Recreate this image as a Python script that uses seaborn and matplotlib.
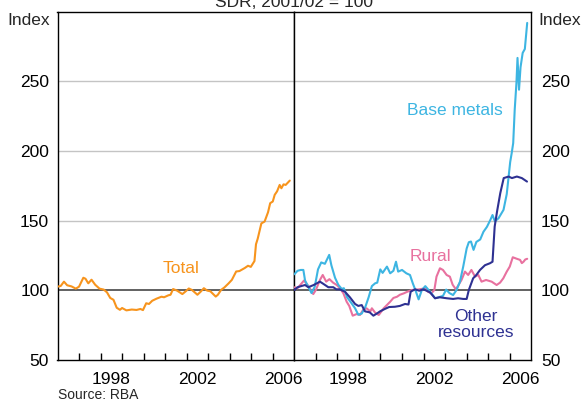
import numpy as np
import pandas as pd
import matplotlib
matplotlib.use("Agg")
import matplotlib.pyplot as plt
from matplotlib.ticker import FixedLocator, NullFormatter
import seaborn as sns

# ---- data (decimal year, index SDR 2001/02 = 100) ----
total_t = [1996.0, 1996.15, 1996.3, 1996.45, 1996.65, 1996.85, 1997.0, 1997.2, 1997.3, 1997.43,
           1997.58, 1997.75, 1997.95, 1998.15, 1998.3, 1998.45, 1998.6, 1998.75, 1998.9, 1999.0,
           1999.2, 1999.45, 1999.67, 1999.85, 1999.97, 2000.12, 2000.25, 2000.4, 2000.6, 2000.83,
           2000.95, 2001.15, 2001.25, 2001.37, 2001.55, 2001.8, 2001.95, 2002.1, 2002.25, 2002.5,
           2002.65, 2002.8, 2002.95, 2003.1, 2003.35, 2003.45, 2003.6, 2003.75, 2003.95, 2004.1,
           2004.3, 2004.45, 2004.7, 2004.85, 2004.98, 2005.15, 2005.22, 2005.3, 2005.47, 2005.62,
           2005.78, 2005.88, 2006.0, 2006.09, 2006.2, 2006.32, 2006.4, 2006.5, 2006.6, 2006.79]
total_v = [102.6, 103.1, 106.2, 103.6, 102.8, 101.2, 102.6, 109.0, 108.3, 105.0,
           107.6, 104.0, 101.2, 100.5, 98.5, 94.5, 93.2, 87.5, 86.0, 87.3,
           85.6, 86.2, 85.9, 86.6, 85.8, 90.7, 90.2, 92.5, 94.0, 95.4,
           95.0, 96.4, 96.8, 100.9, 99.8, 97.3, 99.2, 101.3, 100.2, 96.8,
           99.0, 101.5, 99.8, 99.3, 95.5, 96.8, 100.3, 102.0, 105.0, 107.5,
           113.5, 113.8, 116.0, 117.6, 116.8, 121.0, 133.0, 137.0, 148.0, 149.3,
           156.0, 162.5, 163.7, 168.5, 171.0, 175.6, 173.2, 176.0, 175.6, 178.7]

base_t = [1996.0, 1996.15, 1996.3, 1996.42, 1996.5, 1996.65, 1996.8, 1996.95, 1997.1, 1997.25,
          1997.42, 1997.62, 1997.72, 1997.89, 1998.04, 1998.2, 1998.3, 1998.45, 1998.62, 1998.82,
          1998.97, 1999.13, 1999.3, 1999.45, 1999.6, 1999.75, 1999.85, 1999.99, 2000.1, 2000.3,
          2000.45, 2000.6, 2000.72, 2000.82, 2001.0, 2001.2, 2001.37, 2001.5, 2001.62, 2001.77,
          2001.92, 2002.08, 2002.3, 2002.54, 2002.7, 2002.9, 2003.05, 2003.2, 2003.37, 2003.53,
          2003.69, 2003.84, 2004.0, 2004.1, 2004.2, 2004.32, 2004.45, 2004.63, 2004.78, 2004.94,
          2005.1, 2005.2, 2005.31, 2005.48, 2005.71, 2005.86, 2006.02, 2006.09, 2006.16, 2006.23,
          2006.31, 2006.36, 2006.43, 2006.5, 2006.6, 2006.7, 2006.81]
base_v = [111.5, 114.0, 114.6, 114.6, 107.0, 102.5, 98.0, 102.6, 115.0, 120.0,
          119.0, 125.4, 118.0, 109.0, 104.0, 101.0, 101.5, 95.0, 91.5, 87.1,
          82.5, 83.3, 88.2, 95.0, 103.0, 105.0, 105.5, 115.0, 112.5, 117.0,
          112.2, 114.0, 120.5, 113.4, 114.6, 112.2, 111.0, 105.0, 100.2, 93.5,
          100.2, 103.0, 99.0, 94.3, 95.0, 96.0, 100.5, 98.0, 96.6, 100.2,
          106.2, 117.0, 130.0, 134.5, 135.0, 129.0, 134.7, 136.5, 142.0, 145.5,
          150.5, 154.0, 149.5, 151.7, 157.7, 169.0, 192.0, 198.4, 205.6, 229.5,
          248.7, 266.7, 243.9, 260.0, 270.3, 273.1, 291.8]

rural_t = [1996.0, 1996.15, 1996.34, 1996.45, 1996.65, 1996.88, 1997.0, 1997.19, 1997.32, 1997.48,
           1997.63, 1997.8, 1997.97, 1998.12, 1998.28, 1998.43, 1998.55, 1998.71, 1998.9, 1999.05,
           1999.2, 1999.35, 1999.53, 1999.6, 1999.75, 1999.92, 2000.15, 2000.45, 2000.6, 2000.77,
           2000.9, 2001.08, 2001.25, 2001.46, 2001.75, 2002.08, 2002.2, 2002.36, 2002.5, 2002.6,
           2002.76, 2002.9, 2003.07, 2003.22, 2003.35, 2003.5, 2003.62, 2003.76, 2003.92, 2004.07,
           2004.22, 2004.39, 2004.54, 2004.69, 2004.9, 2005.16, 2005.39, 2005.55, 2005.7, 2005.86,
           2006.0, 2006.14, 2006.33, 2006.48, 2006.56, 2006.64, 2006.72, 2006.81]
rural_v = [102.2, 101.5, 105.0, 107.0, 103.1, 97.3, 100.2, 107.4, 111.0, 106.2,
           108.0, 105.5, 103.8, 101.5, 97.8, 91.8, 88.8, 81.8, 83.0, 82.3,
           86.1, 87.1, 84.9, 87.1, 84.0, 82.3, 87.1, 91.8, 94.5, 95.4,
           96.8, 97.8, 99.0, 100.2, 100.6, 101.4, 99.0, 97.8, 100.2, 109.8,
           115.8, 114.6, 111.0, 109.8, 104.0, 100.7, 103.8, 107.4, 113.4, 111.0,
           114.6, 109.8, 111.0, 106.2, 107.4, 106.2, 103.8, 105.5, 108.6, 113.4,
           117.0, 123.7, 122.6, 121.8, 119.5, 120.5, 122.1, 122.6]

other_t = [1996.0, 1996.15, 1996.34, 1996.5, 1996.65, 1996.9, 1997.19, 1997.35, 1997.58, 1997.81,
           1997.95, 1998.1, 1998.35, 1998.58, 1998.82, 1998.97, 1999.13, 1999.28, 1999.5, 1999.67,
           1999.85, 1999.98, 2000.2, 2000.4, 2000.67, 2000.9, 2001.14, 2001.3, 2001.4, 2001.6,
           2001.8, 2002.0, 2002.3, 2002.53, 2002.75, 2003.07, 2003.37, 2003.6, 2003.84, 2004.0,
           2004.1, 2004.3, 2004.45, 2004.62, 2004.85, 2005.08, 2005.2, 2005.3, 2005.41, 2005.56,
           2005.72, 2005.95, 2006.1, 2006.33, 2006.56, 2006.8]
other_v = [100.2, 102.2, 103.1, 103.8, 102.2, 103.8, 106.2, 104.6, 102.2, 102.2,
           100.7, 100.7, 99.0, 95.0, 90.2, 88.8, 89.4, 84.9, 84.2, 81.8,
           83.5, 84.9, 86.6, 88.0, 88.2, 88.8, 90.2, 89.8, 99.0, 100.7,
           99.7, 100.7, 98.5, 94.3, 95.0, 94.3, 93.8, 94.3, 93.8, 93.8,
           100.2, 108.6, 111.0, 114.6, 118.0, 119.4, 120.5, 145.7, 156.5, 169.7,
           180.5, 181.6, 180.5, 181.6, 180.5, 178.0]

year_labels = ["1998", "2002", "2006"]
y_labels = ["50", "100", "150", "200", "250"]

ORANGE = "#F7941D"
LIGHT_BLUE = "#3DB5E2"
PINK = "#E8719F"
NAVY = "#2E3192"

sns.set_theme(style="white")
plt.rcParams["font.family"] = ["Liberation Sans", "DejaVu Sans"]
FS = 12.5

W, H = 582, 401
fig = plt.figure(figsize=(W / 100, H / 100), dpi=100)
fig.patch.set_facecolor("white")

x0, x_mid, x1 = 57.5, 294.3, 531.3
y_top, y_bot = 11.5, 360.0
axL = fig.add_axes([x0 / W, 1 - y_bot / H, (x_mid - x0) / W, (y_bot - y_top) / H])
axR = fig.add_axes([x_mid / W, 1 - y_bot / H, (x1 - x_mid) / W, (y_bot - y_top) / H])

total_df = pd.DataFrame({"year": total_t, "value": total_v})
right_df = pd.concat([
    pd.DataFrame({"year": base_t, "value": base_v, "series": "Base metals"}),
    pd.DataFrame({"year": rural_t, "value": rural_v, "series": "Rural"}),
    pd.DataFrame({"year": other_t, "value": other_v, "series": "Other resources"}),
], ignore_index=True)

for ax in (axL, axR):
    ax.set_xlim(1996, 2007)
    ax.set_ylim(50, 300)
    for v in (150, 200, 250):
        ax.axhline(v, color="#C4C4C4", lw=1.0, zorder=0)
    ax.axhline(100, color="#555555", lw=1.3, zorder=1)
    for s in ax.spines.values():
        s.set_color("black")
        s.set_linewidth(1.0)
        s.set_visible(True)
    ax.xaxis.set_major_locator(FixedLocator([1998.5, 2002.5, 2006.5]))
    ax.set_xticklabels(year_labels, fontsize=FS)
    ax.xaxis.set_minor_locator(FixedLocator(list(range(1997, 2007))))
    ax.xaxis.set_minor_formatter(NullFormatter())
    ax.tick_params(axis="x", which="major", length=0, pad=9, colors="black")
    ax.tick_params(axis="x", which="minor", direction="in", length=5, width=1.0,
                   bottom=True, top=False, color="black")
    ax.set_yticks([50, 100, 150, 200, 250])
    ax.set_xlabel("")
    ax.set_ylabel("")
    ax.set_facecolor("white")

sns.lineplot(data=total_df, x="year", y="value", ax=axL, color=ORANGE, lw=1.5,
             estimator=None, sort=False, zorder=3)
sns.lineplot(data=right_df, x="year", y="value", hue="series", ax=axR,
             palette={"Base metals": LIGHT_BLUE, "Rural": PINK, "Other resources": NAVY},
             hue_order=["Rural", "Base metals", "Other resources"],
             lw=1.5, estimator=None, sort=False, legend=False, zorder=3)

for ax in (axL, axR):
    ax.set_xlabel("")
    ax.set_ylabel("")

axL.set_yticklabels(y_labels, fontsize=FS)
axL.tick_params(axis="y", length=0, pad=6, colors="black")
axR.yaxis.tick_right()
axR.set_yticklabels(y_labels, fontsize=FS)
axR.tick_params(axis="y", length=0, pad=7, colors="black", left=False, right=True)

# series labels
axL.text(2001.73, 115.3, "Total", color=ORANGE, fontsize=FS, ha="center", va="center")
axR.text(2003.46, 229.1, "Base metals", color=LIGHT_BLUE, fontsize=FS, ha="center", va="center")
axR.text(2002.34, 124.3, "Rural", color=PINK, fontsize=FS, ha="center", va="center")
axR.text(2004.43, 75.4, "Other\nresources", color=NAVY, fontsize=FS, ha="center",
         va="center", linespacing=1.1, multialignment="center")

# axis unit labels, subtitle and source
fig.text(7 / W, 1 - 25 / H, "Index", fontsize=FS, ha="left", va="baseline")
fig.text(538 / W, 1 - 25 / H, "Index", fontsize=FS, ha="left", va="baseline")
fig.text(x_mid / W, 1 - 7 / H, "SDR, 2001/02 = 100", fontsize=FS, ha="center", va="baseline")
fig.text(x0 / W, 1 - 399 / H, "Source: RBA", fontsize=10, ha="left", va="baseline")

fig.savefig("out.png", dpi=100, facecolor="white")
